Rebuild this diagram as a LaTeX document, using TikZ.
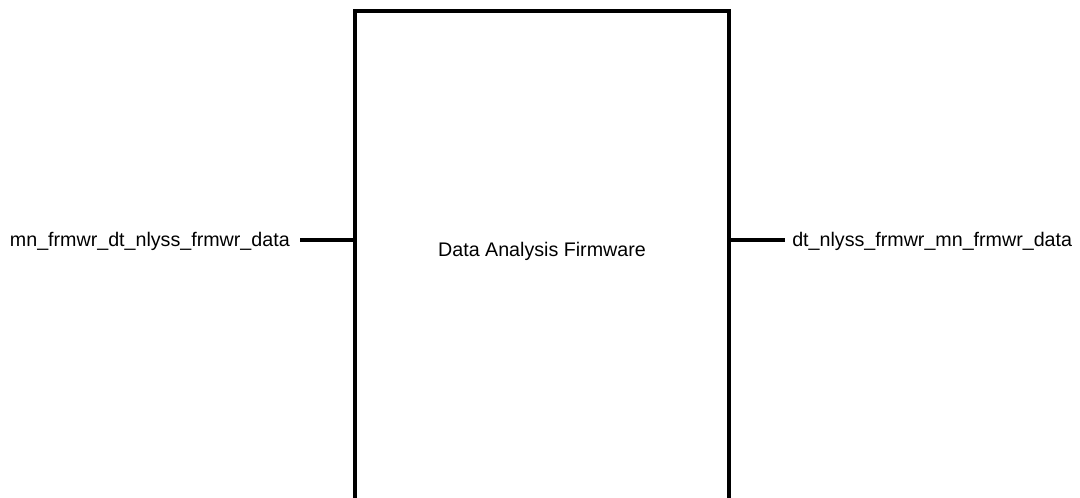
\documentclass[tikz,border=0pt]{standalone}
\usepackage{fontspec}
\setmainfont{Liberation Sans}
\begin{document}
\begin{tikzpicture}[x=0.75pt, y=-0.75pt,
  block/.style={draw=black, line width=3pt, minimum width=280.5pt, minimum height=396.75pt, inner sep=0pt},
  portlabel/.style={inner sep=0pt, font=\fontsize{14.75pt}{17pt}\selectfont},
  wire/.style={draw=black, line width=3pt}]
  \clip (0,0) rectangle (1080,497);
  \fill[white] (0,0) rectangle (1080,497);
  % firmware block (extends below the visible area)
  \node[block] (fw) at (542,275.5) {};
  \node[portlabel, anchor=base] (fwname) at (542,256) {Data Analysis Firmware};
  % input port
  \node[portlabel, anchor=base east] (inlbl) at (290,246) {mn\_frmwr\_dt\_nlyss\_frmwr\_data};
  \coordinate (inpin) at (300,240);
  \draw[wire] (inpin) -- (inpin -| fw.west);
  % output port
  \node[portlabel, anchor=base west] (outlbl) at (792,246) {dt\_nlyss\_frmwr\_mn\_frmwr\_data};
  \coordinate (outpin) at (785,240);
  \draw[wire] (outpin -| fw.east) -- (outpin);
\end{tikzpicture}
\end{document}
